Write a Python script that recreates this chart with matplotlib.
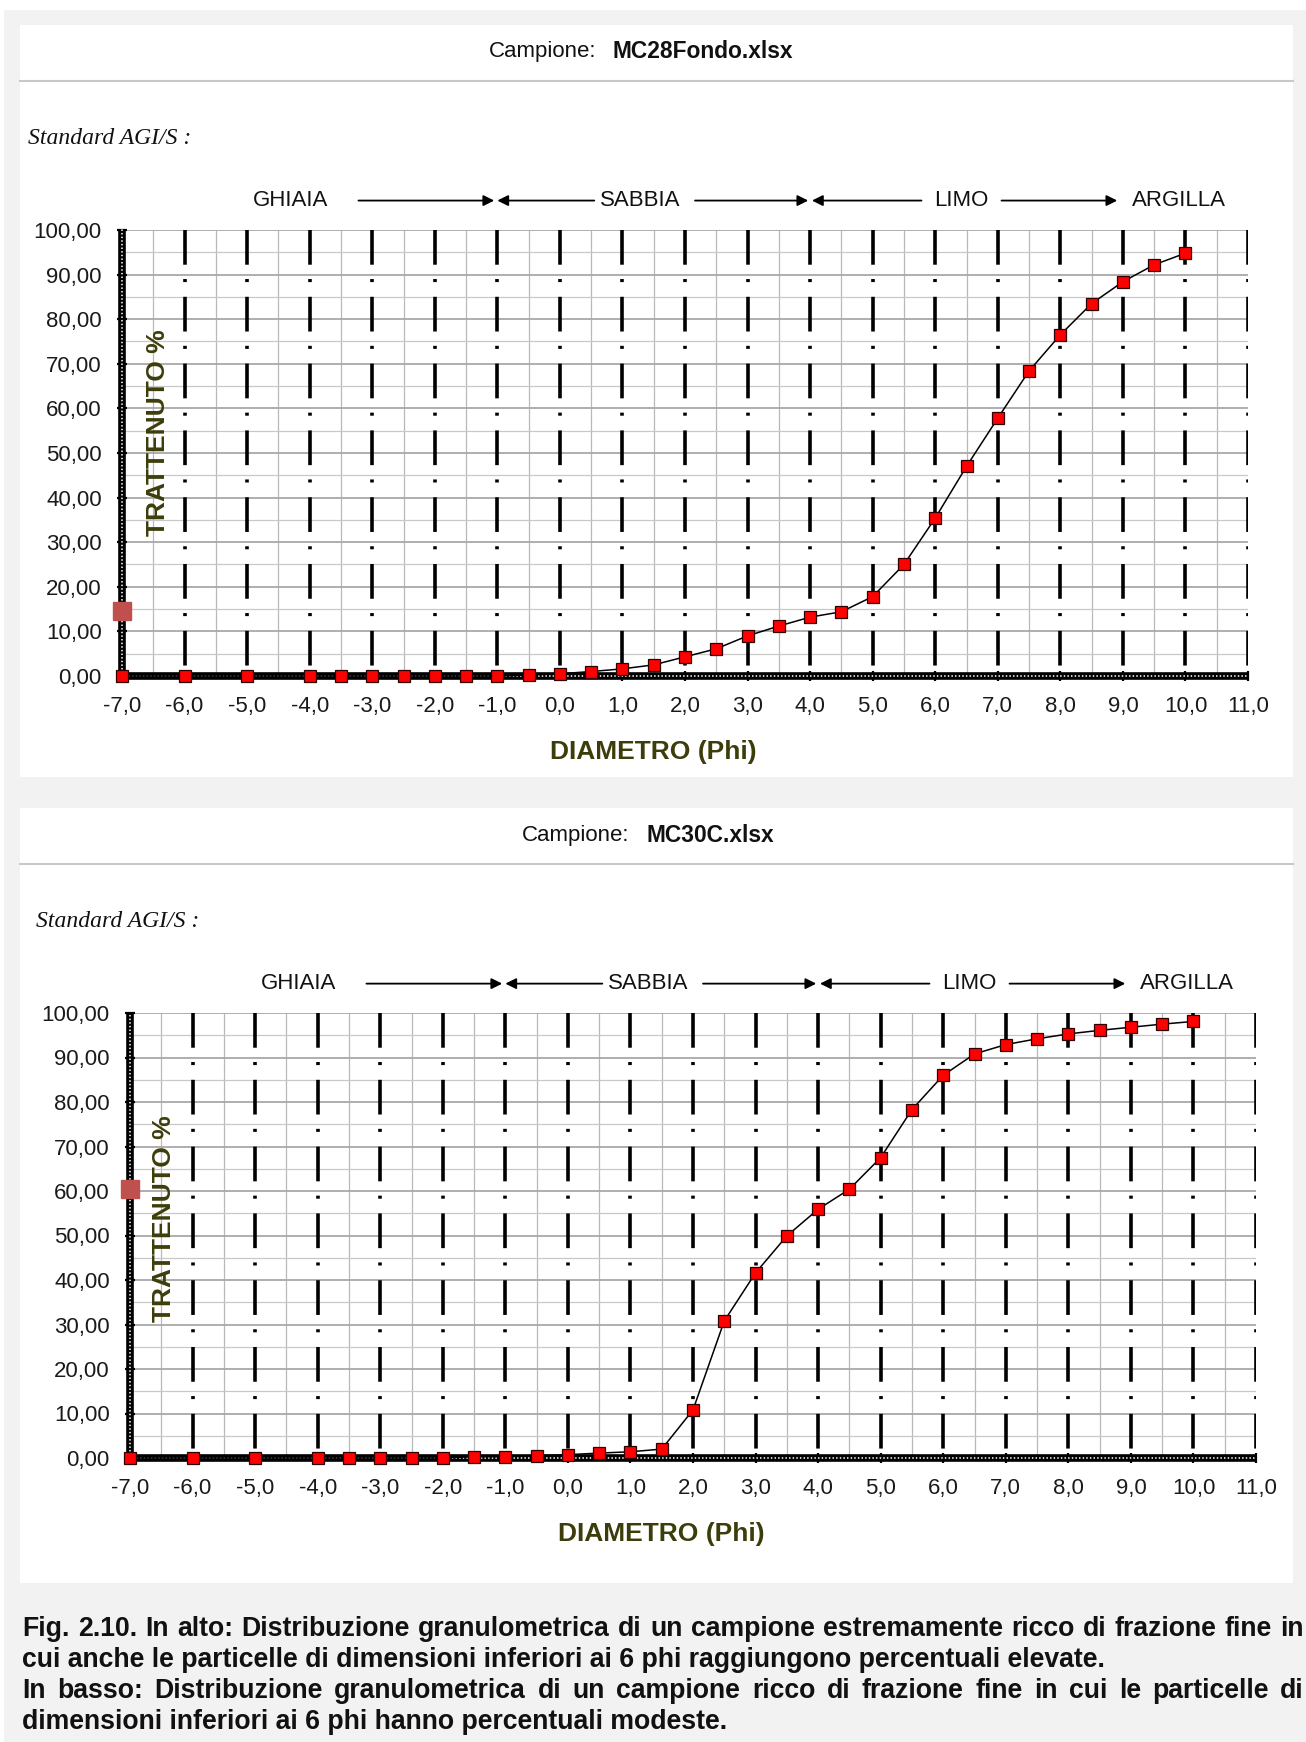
import numpy as np
import matplotlib
matplotlib.use('Agg')
from matplotlib import pyplot as plt
from matplotlib.patches import Rectangle
import matplotlib.transforms as mtransforms

plt.rcParams['font.family'] = ['Liberation Sans', 'DejaVu Sans']
plt.rcParams['lines.scale_dashes'] = False

# phi classes and cumulative retained percentages
phi = [-7.0, -6.0, -5.0, -4.0, -3.5, -3.0, -2.5, -2.0, -1.5, -1.0, -0.5,
       0.0, 0.5, 1.0, 1.5, 2.0, 2.5, 3.0, 3.5, 4.0, 4.5, 5.0, 5.5,
       6.0, 6.5, 7.0, 7.5, 8.0, 8.5, 9.0, 9.5, 10.0]
mc28_fondo = [0, 0, 0, 0, 0, 0, 0, 0, 0, 0, 0.2,
              0.5, 1.0, 1.6, 2.5, 4.3, 6.1, 9.0, 11.2, 13.2, 14.4, 17.8, 25.0,
              35.4, 47.0, 57.8, 68.4, 76.5, 83.5, 88.4, 92.2, 94.8]
mc30c = [0, 0, 0, 0, 0, 0, 0, 0, 0.3, 0.3, 0.5,
         0.75, 1.1, 1.4, 2.0, 10.8, 30.8, 41.6, 49.9, 55.9, 60.4, 67.5, 78.3,
         86.0, 90.8, 92.9, 94.2, 95.3, 96.1, 96.8, 97.5, 98.1]
# lone series point sitting on the y axis
key_mc28 = 14.5
key_mc30 = 60.5

x_ticks = [-7, -6, -5, -4, -3, -2, -1, 0, 1, 2, 3, 4, 5, 6, 7, 8, 9, 10, 11]
y_ticks = [0, 10, 20, 30, 40, 50, 60, 70, 80, 90, 100]

zones = ['GHIAIA', 'SABBIA', 'LIMO', 'ARGILLA']
zone_x = [-4.3, 1.29, 6.42, 9.9]
zone_arrows = [(-3.22, -1.05), (0.55, -1.0), (2.16, 3.97), (5.78, 4.03), (7.06, 8.91)]

caption = [
    "Fig. 2.10. In alto: Distribuzione granulometrica di un campione estremamente ricco di frazione fine in",
    "cui anche le particelle di dimensioni inferiori ai 6 phi raggiungono percentuali elevate.",
    "In basso: Distribuzione granulometrica di un campione ricco di frazione fine in cui le particelle di",
    "dimensioni inferiori ai 6 phi hanno percentuali modeste.",
]

W, H = 1306, 1742
fig = plt.figure(figsize=(W / 100, H / 100), dpi=100, facecolor='#f2f2f2')


def px(x, y):
    return x / W, 1 - y / H


# page edges and white chart panels
fig.patches.append(Rectangle((0, 1 - 10 / H), 1, 10 / H, transform=fig.transFigure,
                             facecolor='white', edgecolor='none', zorder=-5))
fig.patches.append(Rectangle((0, 0), 4 / W, 1, transform=fig.transFigure,
                             facecolor='white', edgecolor='none', zorder=-5))
for top, bot in [(25, 777), (808, 1583)]:
    fig.patches.append(Rectangle(px(20, bot), 1273 / W, (bot - top) / H,
                                 transform=fig.transFigure, facecolor='white',
                                 edgecolor='none', zorder=-4))


def draw_chart(rect, values, key_val, sample, title_x, name_x, title_y, sep_y, std_xy, ylab_pos):
    fig.text(*px(title_x, title_y), 'Campione:', fontsize=16, va='center', color='#111111')
    fig.text(*px(name_x, title_y), sample, fontsize=16.4, fontweight='bold', va='center', color='#111111')
    fig.lines.append(plt.Line2D([20 / W, 1293 / W], [1 - sep_y / H] * 2, transform=fig.transFigure,
                                color='#c8c8c8', lw=1.5))
    fig.text(*px(*std_xy), 'Standard AGI/S :', family='Liberation Serif', style='italic',
             fontsize=17, va='center', color='#111111')

    ax = fig.add_axes(rect)
    ax.set_facecolor('white')
    ax.set_xlim(-7, 11)
    ax.set_ylim(0, 100)
    for s in ax.spines.values():
        s.set_visible(False)

    # light grid
    for x in np.arange(-6.5, 11, 1.0):
        ax.plot([x, x], [0, 100], color='#b8b8b8', lw=0.9, zorder=0)
    for y in range(5, 101, 5):
        ax.plot([-7, 11], [y, y], color='#a8a8a8' if y % 10 == 0 else '#c8c8c8',
                lw=1.3 if y % 10 == 0 else 0.9, zorder=0)

    # heavy dash-dot verticals at whole phi
    for x in range(-6, 12):
        ax.plot([x, x], [100, 0], color='black', lw=2.6, dashes=(25, 10.3, 2.2, 10.6),
                dash_capstyle='butt', zorder=1)

    # beaded axes
    ax.plot([-7, 11], [0, 0], color='black', lw=5.5, solid_capstyle='butt', clip_on=False, zorder=2)
    ax.plot([-7, 11], [0, 0], color='white', lw=1.3, dashes=(0.01, 2.6),
            dash_capstyle='round', clip_on=False, zorder=2)
    ax.plot([-7, -7], [0, 100], color='black', lw=5.5, solid_capstyle='butt', clip_on=False, zorder=2)
    ax.plot([-7, -7], [0, 100], color='white', lw=1.3, dashes=(0.01, 2.6),
            dash_capstyle='round', clip_on=False, zorder=2)

    ax.plot(phi, values, color='black', lw=1.1, marker='s', ms=8.5, mfc='#ff0000',
            mec='#300000', mew=0.9, clip_on=False, zorder=5)
    ax.plot([-7], [key_val], marker='s', ms=12.5, color='#c0504d', ls='none',
            clip_on=False, zorder=6)

    ax.set_xticks(x_ticks)
    ax.set_xticklabels([f'{v:.1f}'.replace('.', ',') for v in x_ticks])
    ax.set_yticks(y_ticks)
    ax.set_yticklabels([f'{v:.2f}'.replace('.', ',') for v in y_ticks])
    ax.tick_params(axis='both', direction='inout', length=7, width=1.6, color='black',
                   pad=11, labelsize=16, labelcolor='#1a1a1a')

    ax.text(1.5, -0.17, 'DIAMETRO (Phi)', transform=mtransforms.blended_transform_factory(ax.transData, ax.transAxes),
            ha='center', va='center', fontsize=19, fontweight='bold', color='#3d3d0c')
    ax.text(ylab_pos[0], ylab_pos[1], 'TRATTENUTO %', rotation=90, transform=ax.transAxes,
            ha='center', va='center', fontsize=19, fontweight='bold', color='#3d3d0c', zorder=3)

    # textural classes above the plot
    trans = mtransforms.blended_transform_factory(ax.transData, ax.transAxes)
    yh = 1.066
    for name, x in zip(zones, zone_x):
        ax.text(x, yh, name, transform=trans, ha='center', va='center', fontsize=16, color='#111111')
    for x0, x1 in zone_arrows:
        ax.annotate('', xy=(x1, yh), xytext=(x0, yh), xycoords=trans, textcoords=trans,
                    arrowprops=dict(arrowstyle='-|>', color='black', lw=1.3,
                                    mutation_scale=16, shrinkA=0, shrinkB=0))
    return ax


draw_chart([122 / W, 1 - 676 / H, 1126 / W, 446 / H], mc28_fondo, key_mc28, 'MC28Fondo.xlsx',
           489, 612, 52, 81, (28, 138), (0.032, 0.545))
draw_chart([130 / W, 1 - 1458 / H, 1126 / W, 445 / H], mc30c, key_mc30, 'MC30C.xlsx',
           522, 646, 835, 864, (36, 921), (0.030, 0.537))

# caption, first and third lines justified
renderer = fig.canvas.get_renderer()
cap_y = [1629, 1660, 1691, 1722]
for i, (line, y) in enumerate(zip(caption, cap_y)):
    if i in (0, 2):
        words = line.split()
        texts = [fig.text(0, 1 - y / H, w, fontsize=19.2, fontweight='bold', va='center',
                          color='#111111') for w in words]
        widths = [t.get_window_extent(renderer).width for t in texts]
        gap = (1304 - 22 - sum(widths)) / (len(words) - 1)
        x = 22
        for t, w in zip(texts, widths):
            t.set_x(x / W)
            x += w + gap
    else:
        fig.text(22 / W, 1 - y / H, line, fontsize=19.2, fontweight='bold', va='center', color='#111111')

fig.savefig('out.png', dpi=100, facecolor=fig.get_facecolor())
